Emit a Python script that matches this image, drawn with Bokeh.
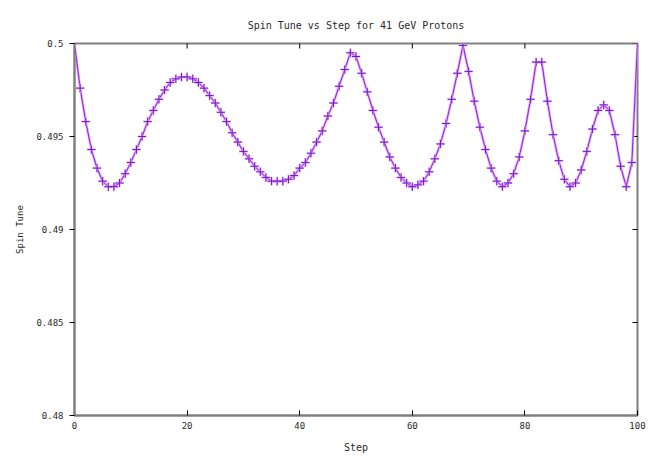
import math
from bokeh.plotting import figure
from bokeh.models import Range1d, FixedTicker, CustomJSTickFormatter
from bokeh.embed import file_html
from bokeh.resources import INLINE

# ---- data ----
steps = list(range(0, 101))
spin_tune = [
    0.5000, 0.4976, 0.4958, 0.4943, 0.4933, 0.4926, 0.4923, 0.4923, 0.4925, 0.4930,
    0.4936, 0.4943, 0.4950, 0.4958, 0.4964, 0.4970, 0.4975, 0.4979, 0.4981, 0.4982,
    0.4982, 0.4981, 0.4979, 0.4976, 0.4972, 0.4968, 0.4963, 0.4958, 0.4952, 0.4947,
    0.4942, 0.4938, 0.4934, 0.4931, 0.4928, 0.4926, 0.4926, 0.4926, 0.4927, 0.4929,
    0.4933, 0.4936, 0.4941, 0.4947, 0.4953, 0.4961, 0.4968, 0.4977, 0.4986, 0.4995,
    0.4993, 0.4984, 0.4974, 0.4964, 0.4955, 0.4947, 0.4939, 0.4933, 0.4928, 0.4925,
    0.4923, 0.4924, 0.4926, 0.4931, 0.4938, 0.4946, 0.4957, 0.4970, 0.4984, 0.4999,
    0.4985, 0.4969, 0.4955, 0.4943, 0.4933, 0.4926, 0.4923, 0.4925, 0.4930, 0.4939,
    0.4953, 0.4970, 0.4990, 0.4990, 0.4969, 0.4951, 0.4937, 0.4927, 0.4923, 0.4925,
    0.4932, 0.4942, 0.4954, 0.4964, 0.4967, 0.4964, 0.4951, 0.4934, 0.4923, 0.4936,
    0.5000,
]
x_ticks = [0, 20, 40, 60, 80, 100]
y_ticks = [0.48, 0.485, 0.49, 0.495, 0.5]
x_min, x_max = 0, 100
y_min, y_max = 0.48, 0.5

FONT = "DejaVu Sans Mono"
TXT = "#2a2a2a"

p = figure(width=649, height=460,
           x_range=Range1d(x_min, x_max), y_range=Range1d(y_min, y_max),
           output_backend="svg", toolbar_location=None,
           min_border_left=74, min_border_right=12,
           min_border_top=43, min_border_bottom=45)

p.title.text = "Spin Tune vs Step for 41 GeV Protons"
p.title.align = "center"
p.title.text_font = FONT
p.title.text_font_size = "10px"
p.title.text_font_style = "normal"
p.title.text_color = TXT
p.title.standoff = 26

p.grid.grid_line_color = None
p.outline_line_color = "#808080"
p.outline_line_width = 2
p.background_fill_color = "white"
p.border_fill_color = "white"

fmt = CustomJSTickFormatter(code="return Number(tick.toFixed(4)).toString();")

for ax in p.axis:
    ax.axis_line_color = "#808080"
    ax.axis_line_width = 2
    ax.major_tick_line_color = "black"
    ax.minor_tick_line_color = None
    ax.major_label_text_font = FONT
    ax.major_label_text_font_size = "9px"
    ax.major_label_text_color = TXT
    ax.axis_label_text_font = FONT
    ax.axis_label_text_font_style = "normal"
    ax.axis_label_text_color = TXT
    ax.major_label_standoff = 6
for ax in p.xaxis:
    ax.ticker = FixedTicker(ticks=x_ticks)
    ax.major_tick_in = 5
    ax.major_tick_out = 0
    ax.axis_label = "Step"
    ax.axis_label_text_font_size = "10px"
    ax.axis_label_standoff = 10
for ax in p.yaxis:
    ax.ticker = FixedTicker(ticks=y_ticks)
    ax.formatter = fmt
    ax.major_tick_in = 0
    ax.major_tick_out = 5
    ax.axis_label = "Spin Tune"
    ax.axis_label_text_font_size = "9px"
    ax.axis_label_standoff = 8

# mirrored inward ticks on top and right edges (half of each dash is clipped by the frame)
p.scatter(x_ticks, [y_max] * len(x_ticks), marker="dash", size=10, angle=math.pi / 2,
          line_color="black", line_width=1)
p.scatter([x_max] * len(y_ticks), y_ticks, marker="dash", size=10,
          line_color="black", line_width=1)

# halo + core line
p.line(steps, spin_tune, line_color="#dcb2f8", line_width=2.6)
p.line(steps, spin_tune, line_color="#9a18e8", line_width=1)
p.scatter(steps, spin_tune, marker="cross", size=9, line_color="#dcb2f8", line_width=2)
p.scatter(steps, spin_tune, marker="cross", size=8, line_color="#7a10c8", line_width=1)

open("out.html", "w").write(file_html(p, INLINE))
